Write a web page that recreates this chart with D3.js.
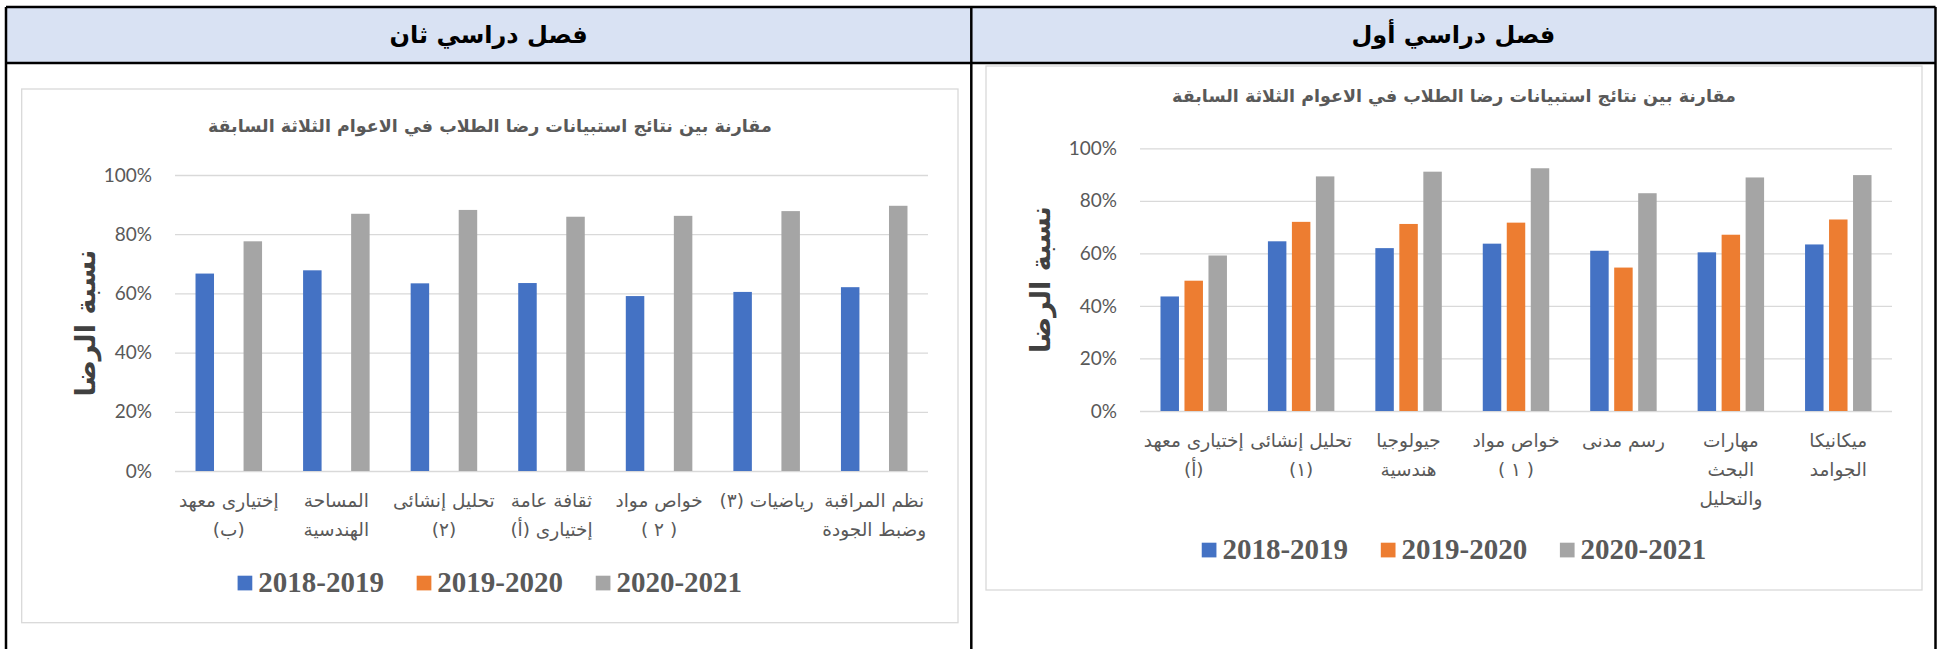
<!DOCTYPE html>
<html>
<head>
<meta charset="utf-8">
<script src="https://cdn.jsdelivr.net/npm/d3@7"></script>
<style>
  body { margin: 0; background: #fff; }
  svg { display: block; }
</style>
</head>
<body>
<div id="chart"></div>
<script>
// Chart data
var seriesNames = ["2018-2019", "2019-2020", "2020-2021"];
var seriesColors = ["#4472C4", "#ED7D31", "#A5A5A5"];
var yTicks = [0, 0.2, 0.4, 0.6, 0.8, 1];

var headerSem2 = "فصل دراسي ثان";
var headerSem1 = "فصل دراسي أول";
var chartTitle = "مقارنة بين نتائج استبيانات رضا الطلاب في الاعوام الثلاثة السابقة";
var yTitle = "نسبة الرضا";

// second semester (left panel)
var catsSem2 = [
  ["إختيارى معهد", "(ب)"],
  ["المساحة", "الهندسية"],
  ["تحليل إنشائى", "(٢)"],
  ["ثقافة عامة", "إختيارى (أ)"],
  ["خواص مواد", "( ٢ )"],
  ["رياضيات (٣)"],
  ["نظم المراقبة", "وضبط الجودة"]
];
var sem2_2018 = [0.667, 0.678, 0.634, 0.635, 0.591, 0.605, 0.621];
var sem2_2019 = [null, null, null, null, null, null, null];
var sem2_2020 = [0.776, 0.869, 0.882, 0.859, 0.862, 0.878, 0.896];

// first semester (right panel)
var catsSem1 = [
  ["إختيارى معهد", "(أ)"],
  ["تحليل إنشائى", "(١)"],
  ["جيولوجيا", "هندسية"],
  ["خواص مواد", "( ١ )"],
  ["رسم مدنى"],
  ["مهارات", "البحث", "والتحليل"],
  ["ميكانيكا", "الجوامد"]
];
var sem1_2018 = [0.436, 0.646, 0.620, 0.637, 0.610, 0.604, 0.634];
var sem1_2019 = [0.496, 0.720, 0.712, 0.717, 0.546, 0.671, 0.729];
var sem1_2020 = [0.592, 0.893, 0.911, 0.924, 0.829, 0.889, 0.898];

var svgWidth = 1944;
var svgHeight = 649;

var svg = d3.select("#chart")
  .append("svg")
  .attr("width", svgWidth)
  .attr("height", svgHeight);

// Table frame with the blue header row
var tableLeft = 6, tableMid = 971.3, tableRight = 1935.5;
var tableTop = 7, headerBottom = 63;

svg.append("rect")
  .attr("x", tableLeft).attr("y", tableTop)
  .attr("width", tableRight - tableLeft)
  .attr("height", headerBottom - tableTop)
  .attr("fill", "#D9E2F3");

[[tableLeft, tableTop, tableRight, tableTop],
 [tableLeft, headerBottom, tableRight, headerBottom],
 [tableLeft, tableTop, tableLeft, svgHeight],
 [tableMid, tableTop, tableMid, svgHeight],
 [tableRight, tableTop, tableRight, svgHeight]].forEach(function(l) {
  svg.append("line")
    .attr("x1", l[0]).attr("y1", l[1])
    .attr("x2", l[2]).attr("y2", l[3])
    .attr("stroke", "#000")
    .attr("stroke-width", 2.5);
});

[[headerSem2, (tableLeft + tableMid) / 2], [headerSem1, (tableMid + tableRight) / 2]].forEach(function(h) {
  svg.append("text")
    .attr("x", h[1])
    .attr("y", 43)
    .attr("text-anchor", "middle")
    .attr("direction", "rtl")
    .style("font-family", "DejaVu Sans")
    .style("font-weight", "bold")
    .style("font-size", "24px")
    .attr("fill", "#000")
    .text(h[0]);
});

function drawChart(cfg) {
  var g = svg.append("g");

  // chart area box
  g.append("rect")
    .attr("x", cfg.box[0]).attr("y", cfg.box[1])
    .attr("width", cfg.box[2] - cfg.box[0])
    .attr("height", cfg.box[3] - cfg.box[1])
    .attr("fill", "#fff")
    .attr("stroke", "#d9d9d9")
    .attr("stroke-width", 1.3);

  var boxCenter = (cfg.box[0] + cfg.box[2]) / 2;

  // title
  g.append("text")
    .attr("x", boxCenter)
    .attr("y", cfg.titleY)
    .attr("text-anchor", "middle")
    .attr("direction", "rtl")
    .style("font-family", "DejaVu Sans")
    .style("font-weight", "bold")
    .style("font-size", "17.5px")
    .attr("fill", "#595959")
    .text(chartTitle);

  var xScale = d3.scaleBand()
    .domain(d3.range(cfg.cats.length))
    .range([cfg.x0, cfg.x1])
    .paddingInner(0.33)
    .paddingOuter(0.165);

  var xInner = d3.scaleBand()
    .domain(seriesNames)
    .range([0, xScale.bandwidth()])
    .paddingInner(0.23)
    .paddingOuter(0.115);

  var yScale = d3.scaleLinear()
    .domain([0, 1])
    .range([cfg.y0, cfg.y1]);

  // gridlines and tick labels
  var yAxis = d3.axisLeft(yScale)
    .tickValues(yTicks)
    .tickSize(-(cfg.x1 - cfg.x0))
    .tickPadding(23)
    .tickFormat(d3.format(".0%"));

  var axisG = g.append("g")
    .attr("transform", `translate(${cfg.x0},0)`)
    .call(yAxis);
  axisG.select(".domain").remove();
  axisG.selectAll(".tick line")
    .attr("stroke", "#d9d9d9")
    .attr("stroke-width", 1.3);
  axisG.selectAll(".tick text")
    .attr("fill", "#595959")
    .style("font-family", "Lato")
    .style("font-size", "19px");

  // bars
  cfg.series.forEach(function(vals, si) {
    g.append("g").selectAll("rect")
      .data(vals.map(function(v, i) { return {v: v, i: i}; }).filter(function(d) { return d.v != null; }))
      .enter()
      .append("rect")
      .attr("x", d => xScale(d.i) + xInner(seriesNames[si]))
      .attr("y", d => yScale(d.v))
      .attr("width", xInner.bandwidth())
      .attr("height", d => yScale(0) - yScale(d.v))
      .attr("fill", seriesColors[si]);
  });

  // category labels (wrapped like the original)
  var labG = g.append("g");
  cfg.cats.forEach(function(lines, i) {
    lines.forEach(function(line, li) {
      labG.append("text")
        .attr("x", xScale(i) + xScale.bandwidth() / 2)
        .attr("y", cfg.y0 + 36 + li * 29)
        .attr("text-anchor", "middle")
        .attr("direction", "rtl")
        .style("font-family", "DejaVu Sans")
        .style("font-size", "18.5px")
        .attr("fill", "#595959")
        .text(line);
    });
  });

  // y axis title
  g.append("text")
    .attr("transform", `translate(${cfg.yTitleX}, ${(cfg.y0 + cfg.y1) / 2}) rotate(-90)`)
    .attr("text-anchor", "middle")
    .attr("direction", "rtl")
    .attr("dy", "0.3em")
    .style("font-family", "DejaVu Sans")
    .style("font-weight", "bold")
    .style("font-size", "27px")
    .attr("fill", "#404040")
    .text(yTitle);

  // legend
  var legG = g.append("g");
  var xPos = 0;
  seriesNames.forEach(function(name, si) {
    legG.append("rect")
      .attr("x", xPos).attr("y", -7.3)
      .attr("width", 14.7).attr("height", 14.7)
      .attr("fill", seriesColors[si]);
    var t = legG.append("text")
      .attr("x", xPos + 20.7)
      .attr("y", 8.7)
      .style("font-family", "Liberation Serif")
      .style("font-weight", "bold")
      .style("font-size", "29px")
      .attr("fill", "#595959")
      .text(name);
    xPos += 20.7 + t.node().getComputedTextLength() + 32.7;
  });
  var legW = xPos - 32.7;
  legG.attr("transform", `translate(${boxCenter - legW / 2}, ${cfg.legendY})`);
}

drawChart({
  box: [21.7, 89, 958, 622.7],
  titleY: 132,
  x0: 175, x1: 928,
  y0: 471, y1: 175,
  yTitleX: 87,
  legendY: 583,
  cats: catsSem2,
  series: [sem2_2018, sem2_2019, sem2_2020]
});

drawChart({
  box: [986, 66, 1922, 590],
  titleY: 102,
  x0: 1140, x1: 1892,
  y0: 411, y1: 148.3,
  yTitleX: 1042,
  legendY: 550,
  cats: catsSem1,
  series: [sem1_2018, sem1_2019, sem1_2020]
});
</script>
</body>
</html>
